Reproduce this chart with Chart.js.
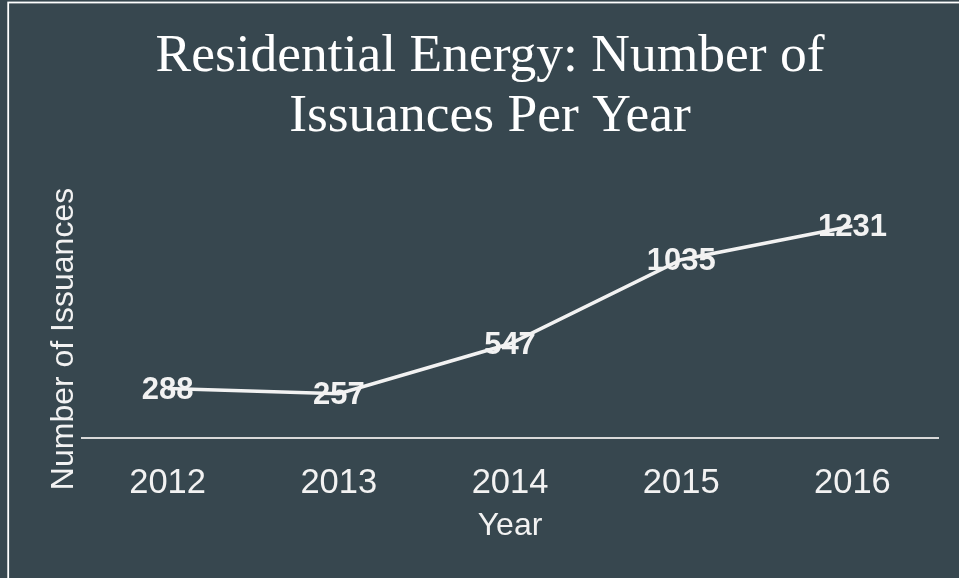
<!DOCTYPE html>
<html>
<head>
<meta charset="utf-8">
<script src="https://cdn.jsdelivr.net/npm/chart.js@4/dist/chart.umd.min.js"></script>
<style>
  html, body { margin: 0; padding: 0; background: #37474f; }
  #wrap { width: 959px; height: 578px; position: relative; }
  canvas { display: block; }
</style>
</head>
<body>
<div id="wrap"><canvas id="c" width="959" height="578"></canvas></div>
<script>
const categories = ['2012', '2013', '2014', '2015', '2016'];
const issuances = [288, 257, 547, 1035, 1231];
const titleLines = ['Residential Energy: Number of', 'Issuances Per Year'];
const xAxisTitle = 'Year';
const yAxisTitle = 'Number of Issuances';
const yMin = 0;
const yMax = 1400;

const BG = '#37474f';
const FG = '#f2f2f2';

const backgroundPlugin = {
  id: 'bgFrame',
  beforeDraw(chart) {
    const ctx = chart.ctx;
    ctx.save();
    ctx.fillStyle = BG;
    ctx.fillRect(0, 0, chart.width, chart.height);
    ctx.strokeStyle = '#ffffff';
    ctx.lineWidth = 1.8;
    ctx.strokeRect(8.2, 2.5, chart.width + 20, chart.height + 20);
    ctx.restore();
  }
};

const yTitlePlugin = {
  id: 'yTitle',
  afterDraw(chart) {
    const ctx = chart.ctx;
    ctx.save();
    ctx.translate(64, 339);
    ctx.rotate(-Math.PI / 2);
    ctx.font = '32px "Liberation Sans", Arial, sans-serif';
    ctx.fillStyle = FG;
    ctx.textAlign = 'center';
    ctx.textBaseline = 'middle';
    ctx.fillText(yAxisTitle, 0, 0);
    ctx.restore();
  }
};

const dataLabelPlugin = {
  id: 'dataLabels',
  afterDatasetsDraw(chart) {
    const ctx = chart.ctx;
    const meta = chart.getDatasetMeta(0);
    const data = chart.data.datasets[0].data;
    ctx.save();
    ctx.font = 'bold 31px "Liberation Sans", Arial, sans-serif';
    ctx.fillStyle = FG;
    ctx.textAlign = 'center';
    ctx.textBaseline = 'middle';
    meta.data.forEach((pt, i) => {
      ctx.fillText(String(data[i]), pt.x, pt.y + 2);
    });
    ctx.restore();
  }
};

new Chart(document.getElementById('c'), {
  type: 'line',
  data: {
    labels: categories,
    datasets: [{
      data: issuances,
      borderColor: FG,
      borderWidth: 3.5,
      pointRadius: 0,
      pointHoverRadius: 0,
      tension: 0,
      fill: false
    }]
  },
  options: {
    responsive: false,
    devicePixelRatio: 1,
    animation: false,
    events: [],
    layout: { padding: { left: 42, right: 21, top: 0, bottom: 33 } },
    plugins: {
      legend: { display: false },
      tooltip: { enabled: false },
      title: {
        display: true,
        text: titleLines,
        color: '#ffffff',
        font: { family: '"Liberation Serif", "Times New Roman", serif', size: 53.5, weight: 'normal', lineHeight: 1.12 },
        padding: { top: 27, bottom: 50 }
      }
    },
    scales: {
      x: {
        offset: true,
        grid: { display: false, drawTicks: false },
        border: { display: true, color: '#d9d9d9', width: 2 },
        ticks: {
          color: FG,
          padding: 25,
          font: { family: '"Liberation Sans", Arial, sans-serif', size: 34.5, lineHeight: 1.2 }
        },
        title: {
          display: true,
          text: xAxisTitle,
          color: FG,
          padding: { top: -22.8, bottom: 0 },
          font: { family: '"Liberation Sans", Arial, sans-serif', size: 32, lineHeight: 1.2 }
        }
      },
      y: {
        display: true,
        min: yMin,
        max: yMax,
        grid: { display: false, drawTicks: false },
        border: { display: false },
        ticks: { display: false },
        title: { display: false },
        afterFit(scale) { scale.width = 40; }
      }
    }
  },
  plugins: [backgroundPlugin, yTitlePlugin, dataLabelPlugin]
});
</script>
</body>
</html>
